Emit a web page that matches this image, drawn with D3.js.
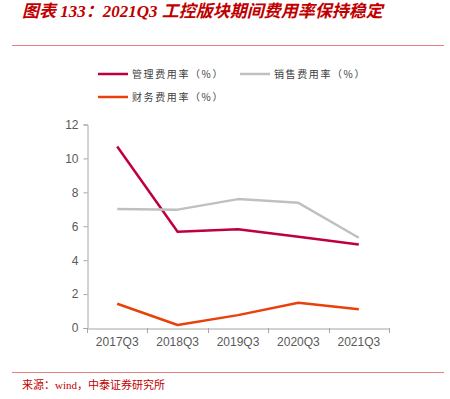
<!DOCTYPE html>
<html>
<head>
<meta charset="utf-8">
<script src="https://cdn.jsdelivr.net/npm/d3@7"></script>
<style>
  body { margin: 0; background: #fff; }
  svg { display: block; }
</style>
</head>
<body>
<svg id="chart" width="450" height="399"></svg>
<script>
const categories = ["2017Q3", "2018Q3", "2019Q3", "2020Q3", "2021Q3"];
const mgmtRate = [10.7, 5.68, 5.82, 5.38, 4.92];
const salesRate = [7.02, 6.98, 7.6, 7.38, 5.32];
const finRate = [1.43, 0.18, 0.76, 1.49, 1.1];
const yTicks = [0, 2, 4, 6, 8, 10, 12];

const series = [
    { name: "管理费用率（%）", values: mgmtRate, color: "#c0003c" },
    { name: "销售费用率（%）", values: salesRate, color: "#c0c0c0" },
    { name: "财务费用率（%）", values: finRate, color: "#e8410c" }
];

const svg = d3.select("#chart");

// title + rules
svg.append("text")
    .attr("x", 22).attr("y", 17)
    .attr("fill", "#c00000")
    .attr("font-family", "'Liberation Serif', 'Noto Sans CJK SC', serif")
    .attr("font-size", 17).attr("font-weight", "bold").attr("font-style", "italic")
    .text("图表 133：2021Q3 工控版块期间费用率保持稳定");

svg.append("line").attr("x1", 12).attr("x2", 444).attr("y1", 45.5).attr("y2", 45.5)
    .attr("stroke", "#e08080").attr("stroke-width", 1);
svg.append("line").attr("x1", 12).attr("x2", 444).attr("y1", 372.5).attr("y2", 372.5)
    .attr("stroke", "#e08080").attr("stroke-width", 1);

svg.append("text")
    .attr("x", 22).attr("y", 389)
    .attr("fill", "#c00000")
    .attr("font-family", "'Liberation Serif', 'Noto Sans CJK SC', serif")
    .attr("font-size", 11)
    .text("来源：wind，中泰证券研究所");

// scales
const x = d3.scaleBand().domain(categories).range([87, 389]);
const y = d3.scaleLinear().domain([0, 12]).range([328, 124.5]);

// y axis
const yAxis = svg.append("g")
    .attr("transform", "translate(87.5,0)")
    .call(d3.axisLeft(y).tickValues(yTicks).tickSize(4).tickPadding(5));
// x axis
const xAxis = svg.append("g")
    .attr("transform", "translate(0,328.5)")
    .call(d3.axisBottom(x).tickSize(0).tickPadding(9));

[yAxis, xAxis].forEach(g => {
    g.selectAll("path").attr("stroke", "#a6a6a6");
    g.selectAll("line").attr("stroke", "#a6a6a6");
    g.selectAll("text")
        .attr("fill", "#595959")
        .attr("font-family", "'Liberation Sans', Arial, sans-serif")
        .attr("font-size", 12);
});

// x ticks at band boundaries
const bounds = categories.map(c => x(c)).concat([x.range()[1]]);
svg.append("g").selectAll("line")
    .data(bounds)
    .join("line")
    .attr("x1", d => Math.round(d) + 0.5)
    .attr("x2", d => Math.round(d) + 0.5)
    .attr("y1", 328)
    .attr("y2", 333)
    .attr("stroke", "#a6a6a6");

// lines
const line = d3.line()
    .x((d, i) => x(categories[i]) + x.bandwidth() / 2)
    .y(d => y(d));

series.forEach(s => {
    svg.append("path")
        .datum(s.values)
        .attr("d", line)
        .attr("fill", "none")
        .attr("stroke", s.color)
        .attr("stroke-width", 2.5)
        .attr("stroke-linejoin", "round");
});

// legend
const legendPos = [
    { lx: 98, ly: 74 },
    { lx: 240, ly: 74 },
    { lx: 98, ly: 97 }
];
series.forEach((s, i) => {
    const p = legendPos[i];
    svg.append("line")
        .attr("x1", p.lx).attr("x2", p.lx + 30)
        .attr("y1", p.ly).attr("y2", p.ly)
        .attr("stroke", s.color).attr("stroke-width", 2.5);
    svg.append("text")
        .attr("x", p.lx + 34).attr("y", p.ly + 4)
        .attr("fill", "#404040")
        .attr("font-family", "'Noto Sans CJK SC', sans-serif")
        .attr("font-size", 10)
        .attr("letter-spacing", 1.6)
        .text(s.name);
});
</script>
</body>
</html>
